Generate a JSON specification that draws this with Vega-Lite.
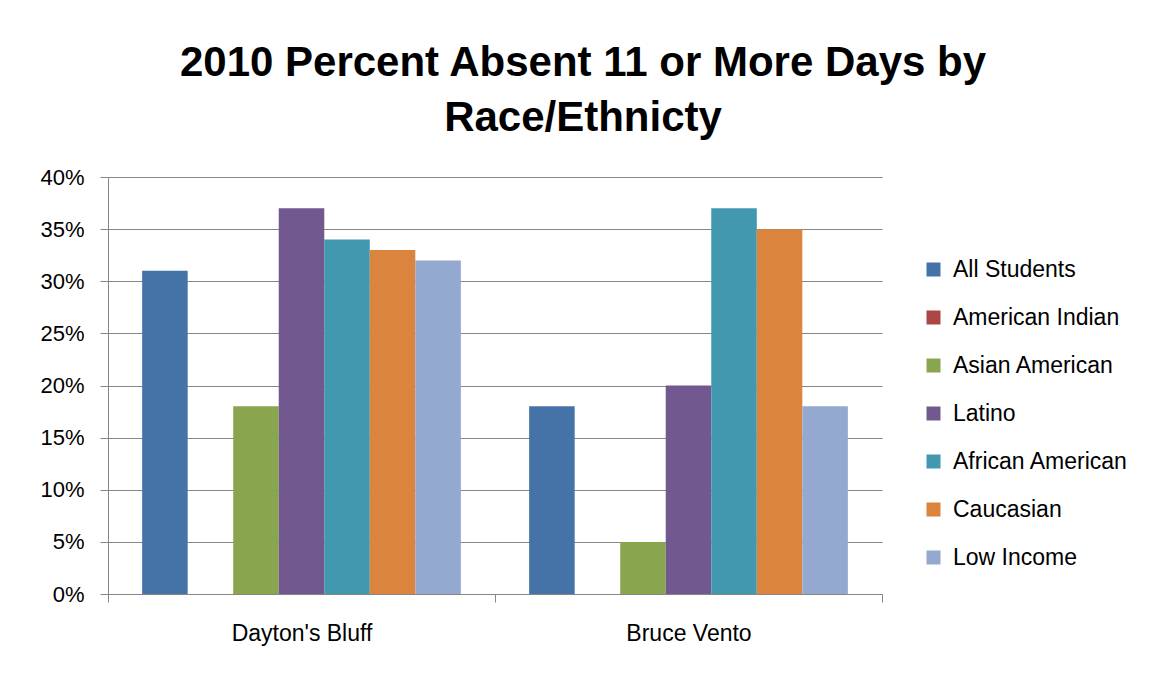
{
  "$schema": "https://vega.github.io/schema/vega-lite/v6.json",
  "width": 774,
  "height": 417,
  "autosize": {"type": "none"},
  "padding": {"left": 108, "top": 177, "right": 276, "bottom": 80},
  "background": "white",
  "title": {
    "text": ["2010 Percent Absent 11 or More Days by", "Race/Ethnicty"],
    "anchor": "middle",
    "dx": 88,
    "offset": 26,
    "font": "Liberation Sans, sans-serif",
    "fontSize": 42,
    "fontWeight": "bold",
    "color": "#000000",
    "lineHeight": 55
  },
  "data": {
    "values": [
      {"school": "Dayton's Bluff", "group": "All Students", "pct": 0.31},
      {"school": "Dayton's Bluff", "group": "American Indian", "pct": 0},
      {"school": "Dayton's Bluff", "group": "Asian American", "pct": 0.18},
      {"school": "Dayton's Bluff", "group": "Latino", "pct": 0.37},
      {"school": "Dayton's Bluff", "group": "African American", "pct": 0.34},
      {"school": "Dayton's Bluff", "group": "Caucasian", "pct": 0.33},
      {"school": "Dayton's Bluff", "group": "Low Income", "pct": 0.32},
      {"school": "Bruce Vento", "group": "All Students", "pct": 0.18},
      {"school": "Bruce Vento", "group": "American Indian", "pct": 0},
      {"school": "Bruce Vento", "group": "Asian American", "pct": 0.05},
      {"school": "Bruce Vento", "group": "Latino", "pct": 0.20},
      {"school": "Bruce Vento", "group": "African American", "pct": 0.37},
      {"school": "Bruce Vento", "group": "Caucasian", "pct": 0.35},
      {"school": "Bruce Vento", "group": "Low Income", "pct": 0.18}
    ]
  },
  "mark": {"type": "bar"},
  "encoding": {
    "x": {
      "field": "school",
      "type": "nominal",
      "sort": ["Dayton's Bluff", "Bruce Vento"],
      "scale": {"paddingInner": 0, "paddingOuter": 0},
      "axis": {
        "title": null,
        "labelAngle": 0,
        "tickBand": "extent",
        "tickSize": 8,
        "tickColor": "#868686",
        "domainColor": "#868686",
        "labelPadding": 20,
        "labelFont": "Liberation Sans, sans-serif",
        "labelFontSize": 23,
        "labelColor": "#000000"
      }
    },
    "xOffset": {
      "field": "group",
      "type": "nominal",
      "sort": ["All Students", "American Indian", "Asian American", "Latino", "African American", "Caucasian", "Low Income"],
      "scale": {"paddingInner": 0, "paddingOuter": 0.75}
    },
    "y": {
      "field": "pct",
      "type": "quantitative",
      "scale": {"domain": [0, 0.4], "nice": false},
      "axis": {
        "title": null,
        "values": [0, 0.05, 0.1, 0.15, 0.2, 0.25, 0.3, 0.35, 0.4],
        "format": ".0%",
        "tickSize": 8,
        "tickColor": "#868686",
        "domainColor": "#868686",
        "gridColor": "#868686",
        "labelPadding": 16,
        "labelFont": "Liberation Sans, sans-serif",
        "labelFontSize": 22,
        "labelColor": "#000000"
      }
    },
    "color": {
      "field": "group",
      "type": "nominal",
      "sort": ["All Students", "American Indian", "Asian American", "Latino", "African American", "Caucasian", "Low Income"],
      "scale": {
        "domain": ["All Students", "American Indian", "Asian American", "Latino", "African American", "Caucasian", "Low Income"],
        "range": ["#4572A7", "#AA4643", "#89A54E", "#71588F", "#4198AF", "#DB843D", "#93A9CF"]
      },
      "legend": {
        "title": null,
        "orient": "none",
        "legendX": 814,
        "legendY": 81,
        "symbolType": "square",
        "symbolSize": 196,
        "symbolStrokeWidth": 0,
        "rowPadding": 24,
        "labelFont": "Liberation Sans, sans-serif",
        "labelFontSize": 23,
        "labelLimit": 400,
        "labelColor": "#000000",
        "labelOffset": 8
      }
    }
  },
  "config": {
    "view": {"stroke": null}
  }
}
